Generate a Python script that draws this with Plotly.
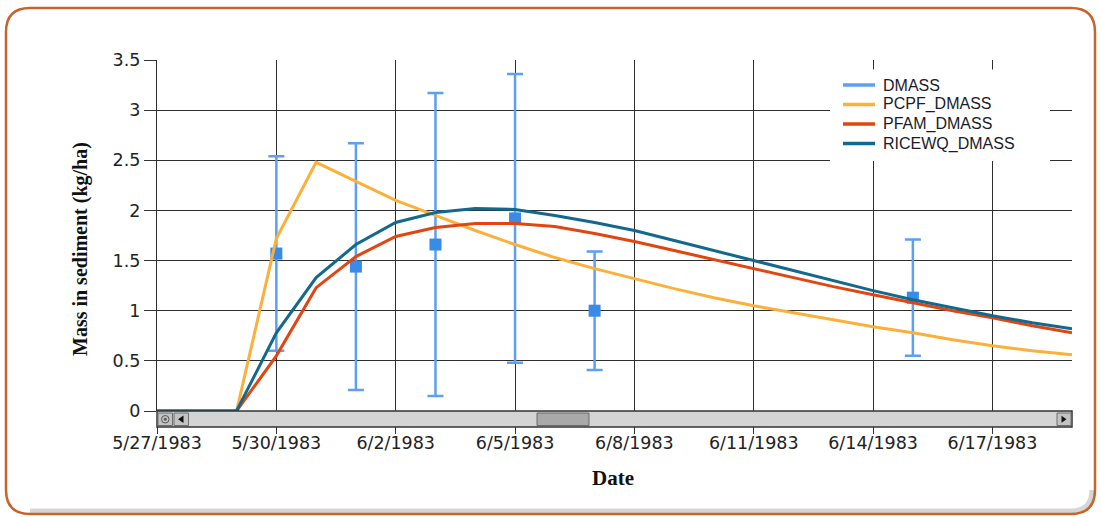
import plotly.graph_objects as go

# Daily simulated sediment mass (kg/ha), 5/27/1983 - 6/19/1983
dates = [
    "1983-05-27", "1983-05-28", "1983-05-29", "1983-05-30", "1983-05-31",
    "1983-06-01", "1983-06-02", "1983-06-03", "1983-06-04", "1983-06-05",
    "1983-06-06", "1983-06-07", "1983-06-08", "1983-06-09", "1983-06-10",
    "1983-06-11", "1983-06-12", "1983-06-13", "1983-06-14", "1983-06-15",
    "1983-06-16", "1983-06-17", "1983-06-18", "1983-06-19",
]
pcpf_dmass = [0, 0, 0, 1.72, 2.48, 2.29, 2.10, 1.95, 1.80, 1.66, 1.53, 1.42,
              1.32, 1.22, 1.13, 1.05, 0.98, 0.91, 0.84, 0.78, 0.71, 0.65,
              0.60, 0.56]
pfam_dmass = [0, 0, 0, 0.55, 1.23, 1.54, 1.74, 1.83, 1.87, 1.87, 1.84, 1.77,
              1.69, 1.60, 1.51, 1.42, 1.33, 1.24, 1.16, 1.08, 1.00, 0.93,
              0.85, 0.78]
ricewq_dmass = [0, 0, 0, 0.78, 1.33, 1.66, 1.88, 1.98, 2.02, 2.01, 1.95, 1.88,
                1.80, 1.70, 1.60, 1.50, 1.40, 1.30, 1.20, 1.11, 1.03, 0.95,
                0.88, 0.82]

# Observed sediment mass with error (kg/ha)
obs_dates = ["1983-05-30", "1983-06-01", "1983-06-03", "1983-06-05",
             "1983-06-07", "1983-06-15"]
obs_dmass = [1.57, 1.44, 1.66, 1.92, 1.00, 1.13]
obs_err = [0.97, 1.23, 1.51, 1.44, 0.59, 0.58]

tick_vals = ["1983-05-27", "1983-05-30", "1983-06-02", "1983-06-05",
             "1983-06-08", "1983-06-11", "1983-06-14", "1983-06-17"]
tick_text = ["5/27/1983", "5/30/1983", "6/2/1983", "6/5/1983",
             "6/8/1983", "6/11/1983", "6/14/1983", "6/17/1983"]

series_names = ["DMASS", "PCPF_DMASS", "PFAM_DMASS", "RICEWQ_DMASS"]

# Figure geometry (pixels)
W, H = 1101, 517
L, R, T, B = 157, 1072, 60, 411


def xp(px):
    return (px - L) / (R - L)


def yp(py):
    return (B - py) / (B - T)


def pt(px, py):
    return f"{xp(px):.5f},{yp(py):.5f}"


def rect(x0, y0, x1, y1, fill, line, lw=1.0):
    return dict(type="rect", xref="paper", yref="paper",
                x0=xp(x0), x1=xp(x1), y0=yp(y1), y1=yp(y0),
                fillcolor=fill, line=dict(color=line, width=lw), layer="above")


def path(d, fill=None, line="rgba(0,0,0,0)", lw=1.0):
    s = dict(type="path", xref="paper", yref="paper", path=d,
             line=dict(color=line, width=lw), layer="above")
    if fill:
        s["fillcolor"] = fill
    return s


C_OBS = "#3a8ae8"
C_OBS_ERR = "#5c9ff3"
C_PCPF = "#fbb03b"
C_PFAM = "#e2450f"
C_RICE = "#13698c"
series_colors = [C_OBS_ERR, C_PCPF, C_PFAM, C_RICE]

fig = go.Figure()

fig.add_trace(go.Scatter(
    x=obs_dates, y=obs_dmass, mode="markers", name=series_names[0],
    marker=dict(symbol="square", size=12, color=C_OBS),
    error_y=dict(type="data", array=obs_err, visible=True,
                 color=C_OBS_ERR, thickness=2.5, width=8),
))
fig.add_trace(go.Scatter(x=dates, y=pcpf_dmass, mode="lines", name=series_names[1],
                         line=dict(color=C_PCPF, width=3)))
fig.add_trace(go.Scatter(x=dates, y=pfam_dmass, mode="lines", name=series_names[2],
                         line=dict(color=C_PFAM, width=3)))
fig.add_trace(go.Scatter(x=dates, y=ricewq_dmass, mode="lines", name=series_names[3],
                         line=dict(color=C_RICE, width=3)))

shapes = []

# Rounded outer frame with a soft shadow along the bottom
fl, ft, fr, fb, rr = 6, 8, 1095, 514, 24
shadow = (f"M{pt(fl + rr, fb - 3)} L{pt(fr - rr, fb - 3)} "
          f"Q{pt(fr - 3, fb - 3)} {pt(fr - 3, fb - rr)}")
shapes.append(path(shadow, line="rgba(90,90,90,0.25)", lw=5))
frame = (f"M{pt(fl + rr, ft)} L{pt(fr - rr, ft)} Q{pt(fr, ft)} {pt(fr, ft + rr)} "
         f"L{pt(fr, fb - rr)} Q{pt(fr, fb)} {pt(fr - rr, fb)} "
         f"L{pt(fl + rr, fb)} Q{pt(fl, fb)} {pt(fl, fb - rr)} "
         f"L{pt(fl, ft + rr)} Q{pt(fl, ft)} {pt(fl + rr, ft)} Z")
shapes.append(path(frame, line="#c6642c", lw=2.5))

# Legend panel: white box, line samples and labels
shapes.append(dict(type="rect", xref="paper", yref="paper",
                   x0=xp(830), x1=xp(1050), y0=yp(161), y1=yp(69.5),
                   fillcolor="white", line=dict(width=0), layer="above"))
legend_rows = [85, 104.5, 124, 143.5]
annotations = []
for name, col, ry in zip(series_names, series_colors, legend_rows):
    shapes.append(dict(type="line", xref="paper", yref="paper",
                       x0=xp(843), x1=xp(875), y0=yp(ry), y1=yp(ry),
                       line=dict(color=col, width=3.5), layer="above"))
    annotations.append(dict(text=name, xref="paper", yref="paper",
                            x=xp(881), y=yp(ry), showarrow=False,
                            xanchor="left", yanchor="middle",
                            font=dict(family="Liberation Sans, Arial, sans-serif",
                                      size=16, color="#1a1a2a")))

# Horizontal scrollbar under the plot
shapes.append(rect(L, B, R, 427, "#d4d4d4", "#333333", 1.5))
shapes.append(rect(158, 413, 172.5, 425.5, "#c3c3c3", "#6e6e6e", 1))
shapes.append(dict(type="circle", xref="paper", yref="paper",
                   x0=xp(161.5), x1=xp(169), y0=yp(423), y1=yp(415.5),
                   line=dict(color="#555555", width=1), layer="above"))
shapes.append(dict(type="circle", xref="paper", yref="paper",
                   x0=xp(164), x1=xp(166.5), y0=yp(420.5), y1=yp(418),
                   fillcolor="#555555", line=dict(color="#555555", width=0.5),
                   layer="above"))
shapes.append(rect(174, 413, 188.5, 425.5, "#c3c3c3", "#6e6e6e", 1))
shapes.append(path(f"M{pt(183.5, 415.5)} L{pt(178, 419.3)} L{pt(183.5, 423)} Z",
                   fill="#111111"))
shapes.append(rect(537, 413, 589, 425.5, "#a9a9a9", "#6a6a6a", 1))
shapes.append(rect(1057, 413, 1071, 425.5, "#c3c3c3", "#6e6e6e", 1))
shapes.append(path(f"M{pt(1061.5, 415.8)} L{pt(1066.5, 419.3)} L{pt(1061.5, 422.8)} Z",
                   fill="#111111"))

annotations += [
    dict(text="<b>Mass in sediment (kg/ha)</b>", xref="paper", yref="paper",
         x=xp(80), y=yp(249), textangle=-90, showarrow=False,
         xanchor="center", yanchor="middle",
         font=dict(family="Liberation Serif, Times New Roman, serif", size=20,
                   color="#111111")),
    dict(text="<b>Date</b>", xref="paper", yref="paper",
         x=xp(613), y=yp(478), showarrow=False,
         xanchor="center", yanchor="middle",
         font=dict(family="Liberation Serif, Times New Roman, serif", size=21,
                   color="#111111")),
]

tick_font = dict(family="DejaVu Sans, sans-serif", size=17.5, color="#222222")
grid_col = "#2e2e2e"

fig.update_layout(
    width=W, height=H,
    margin=dict(l=L, r=W - R, t=T, b=H - B, pad=0),
    paper_bgcolor="white", plot_bgcolor="white",
    showlegend=False,
    xaxis=dict(type="date", range=[dates[0], dates[-1]],
               tickmode="array", tickvals=tick_vals, ticktext=tick_text,
               ticks="outside", ticklen=22, tickwidth=1.2, tickcolor="#333333",
               ticklabelstandoff=-6,
               tickfont=tick_font, showgrid=True, gridcolor=grid_col,
               gridwidth=1.2, showline=False, zeroline=False),
    yaxis=dict(range=[0, 3.5], dtick=0.5, tick0=0,
               ticks="outside", ticklen=12, tickwidth=1.2, tickcolor="#333333",
               tickfont=tick_font, showgrid=True, gridcolor=grid_col,
               gridwidth=1.2, showline=True, linecolor=grid_col, linewidth=1.2,
               zeroline=False),
    shapes=shapes,
    annotations=annotations,
)

fig.write_html("out.html")
